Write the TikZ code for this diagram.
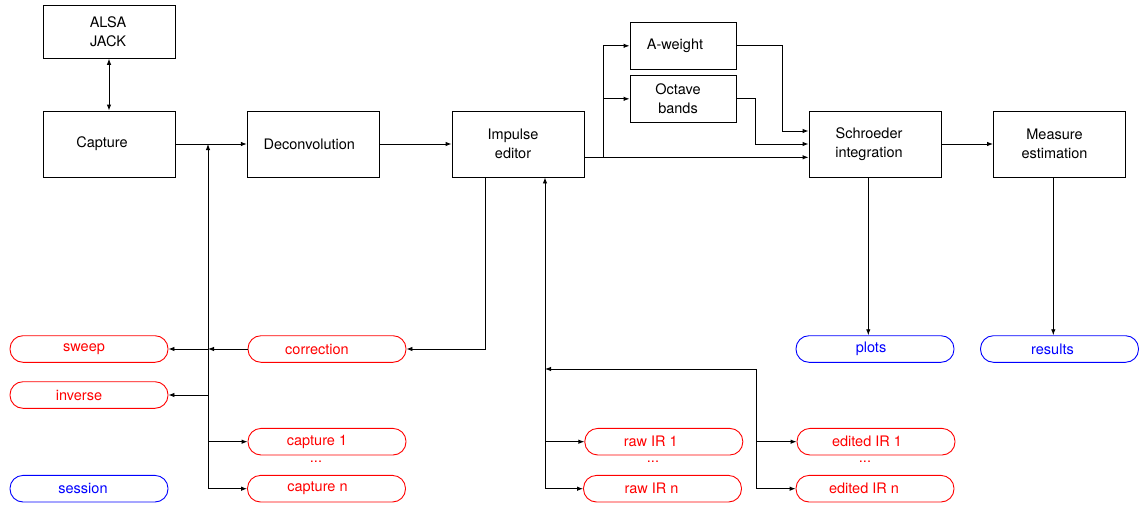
\documentclass[tikz,border=0pt]{standalone}
\usepackage{fontspec}
\setmainfont{TeX Gyre Heros}
\usetikzlibrary{arrows.meta}
\begin{document}
\begin{tikzpicture}[x=1pt,y=-1pt, line width=0.9pt,
  >={Latex[length=6pt,width=4.5pt]},
  font=\fontsize{14.5}{18.5}\selectfont,
  box/.style={draw, minimum width=132pt, minimum height=66pt, inner sep=0pt},
  sbox/.style={draw, minimum width=106pt, minimum height=46.3pt, inner sep=0pt},
  lbl/.style={align=center, inner sep=0pt},
  rbox/.style={draw=#1, rounded corners=13pt, minimum width=158pt, minimum height=26.6pt, inner sep=0pt},
  rl/.style={text=#1, inner sep=0pt}]
\useasboundingbox (0,0) rectangle (1141,504);

% main blocks
\node[box, minimum height=53pt, label={[lbl,xshift=-1pt]center:{ALSA\\JACK}}] (alsa) at (109,31.8) {};
\node[box, label={[lbl,xshift=-7pt]center:{Capture}}] (capture) at (109,144) {};
\node[box, label={[lbl,xshift=-4pt]center:{Deconvolution}}] (deconv) at (313.3,144) {};
\node[box, label={[lbl,xshift=-5pt]center:{Impulse\\editor}}] (impulse) at (518,144) {};
\node[sbox, label={[lbl,xshift=-8pt]center:{A-weight}}] (aweight) at (683,45.8) {};
\node[sbox, label={[lbl,xshift=-5pt]center:{Octave\\bands}}] (octave) at (683,98.8) {};
\node[box, label={[lbl,xshift=-6pt]center:{Schroeder\\integration}}] (schroeder) at (875,144) {};
\node[box, label={[lbl,xshift=-5pt]center:{Measure\\estimation}}] (measure) at (1059.5,144) {};

% data nodes
\node[rbox=red, label={[rl=red,xshift=-5pt]center:{sweep}}] (sweep) at (89,349) {};
\node[rbox=red, label={[rl=red,xshift=-10pt]center:{inverse}}] (inverse) at (89,395) {};
\node[rbox=blue, label={[rl=blue,xshift=-6pt]center:{session}}] (session) at (89,488.7) {};
\node[rbox=red, label={[rl=red,xshift=-10pt]center:{correction}}] (corr) at (327,349) {};
\node[rbox=red, label={[rl=red,xshift=-10pt]center:{capture 1}}] (cap1) at (327,441.7) {};
\node[rl=red] (capdots) at (316,462) {...};
\node[rbox=red, label={[rl=red,xshift=-9pt]center:{capture n}}] (capn) at (326.5,488.7) {};
\node[rbox=red, label={[rl=red,xshift=-13pt]center:{raw IR 1}}] (raw1) at (663.8,441.7) {};
\node[rl=red] (rawdots) at (653,462) {...};
\node[rbox=red, label={[rl=red,xshift=-11pt]center:{raw IR n}}] (rawn) at (662.5,488.7) {};
\node[rbox=red, label={[rl=red,xshift=-9pt]center:{edited IR 1}}] (ed1) at (876,441.7) {};
\node[rl=red] (eddots) at (865,462) {...};
\node[rbox=red, label={[rl=red,xshift=-11pt]center:{edited IR n}}] (edn) at (875,488.7) {};
\node[rbox=blue, label={[rl=blue,xshift=-4pt]center:{plots}}] (plots) at (875,349) {};
\node[rbox=blue, label={[rl=blue,xshift=-7pt]center:{results}}] (results) at (1059.5,349) {};

% coordinates
\coordinate (jcap) at (208,144);
\coordinate (jcapb) at (208,488.7);
\coordinate (jraw) at (545,488.7);
\coordinate (jed) at (756,369);
\coordinate (jb) at (603.7,157.3);
\coordinate (sa) at (782.3,131);
\coordinate (so) at (755.7,144);

% connectors
\draw[<->] (alsa) -- (capture);
\draw[->] (capture) -- (deconv);
\draw[->] (jcapb) -- (jcap);
\draw[->] (corr.west) -- (corr.west -| jcap);
\draw[->] (corr.west -| jcap) -- (sweep.east);
\draw[->] (jcap |- inverse.east) -- (inverse.east);
\draw[->] (jcap |- cap1.west) -- (cap1.west);
\draw[->] (jcapb) -- (capn.west);
\draw[->] (deconv) -- (impulse);
\draw[->] ([xshift=-33pt]impulse.south) |- (corr.east);
\draw[->] (jraw) -- ([xshift=27pt]impulse.south);
\draw[->] (jraw |- raw1.west) -- (raw1.west);
\draw[->] (jraw) -- (rawn.west);
\draw[->] (jed) -- (jed -| jraw);
\draw[->] (jed) |- (edn.west);
\draw[->] (jed |- ed1.west) -- (ed1.west);
\draw[->] (impulse.east |- jb) -- (schroeder.west |- jb);
\draw[->] (jb) |- (aweight.west);
\draw[->] (jb |- octave.west) -- (octave.west);
\draw[->] (aweight.east) -| (sa) -- (sa -| schroeder.west);
\draw[->] (octave.east) -| (so) -- (so -| schroeder.west);
\draw[->] (schroeder) -- (measure);
\draw[->] ([xshift=-6.7pt]schroeder.south) -- ([xshift=-6.7pt]schroeder.south |- plots.north);
\draw[->] ([xshift=-6.2pt]measure.south) -- ([xshift=-6.2pt]measure.south |- results.north);
\end{tikzpicture}
\end{document}
